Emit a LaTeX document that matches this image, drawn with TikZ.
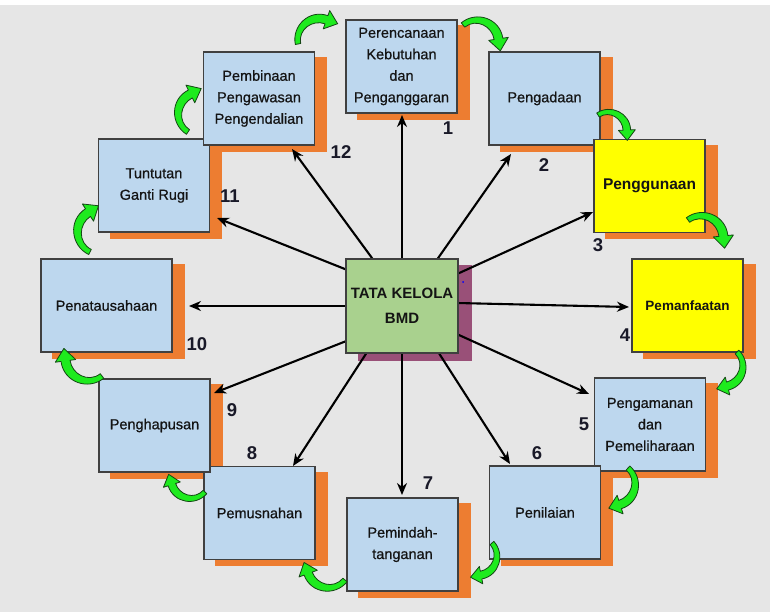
\documentclass[tikz,border=0pt]{standalone}
\usepackage{fontspec}
\setmainfont{Liberation Sans}
\newfontfamily\boxfont[FakeBold=0.7]{Liberation Sans}
\usetikzlibrary{arrows.meta}
\definecolor{bgG}{RGB}{230,230,230}
\definecolor{boxblue}{RGB}{189,215,238}
\definecolor{boxline}{RGB}{64,64,64}
\definecolor{shorange}{RGB}{237,125,49}
\definecolor{shpurple}{RGB}{153,80,120}
\definecolor{cgreen}{RGB}{169,209,142}
\definecolor{yel}{RGB}{255,255,0}
\definecolor{garrfill}{RGB}{30,235,30}
\definecolor{garrline}{RGB}{20,70,20}
\definecolor{numcol}{RGB}{25,25,40}
\pgfdeclarelayer{back}
\pgfdeclarelayer{shad}
\pgfdeclarelayer{conn}
\pgfsetlayers{back,shad,conn,main}
\newcommand\greenarr[3]{%
  \begin{scope}[shift={(#1)}, rotate=#2, scale=#3]
    \begin{scope}[rotate=3.35, shift={(18.79,6.84)}]
      \filldraw[garr] (200:22.5) .. controls (237.6:28.8) and (282.4:30.3) .. (320:24)
        -- (320:29) -- (22.39,-4.43) -- (320:11) -- (320:16)
        .. controls (282.4:20.2) and (237.6:22.1) .. (200:17.5) -- cycle;
    \end{scope}
  \end{scope}}
\begin{document}
\begin{tikzpicture}[x=1pt,y=-1pt,
  box/.style={draw=boxline, line width=1.3pt, fill=boxblue, minimum width=111, minimum height=93,
    inner sep=0pt, align=center, text=black!92, font=\boxfont\fontsize{14.5}{21.5}\selectfont},
  num/.style={font=\bfseries\fontsize{18.5}{20}\selectfont, text=numcol, inner sep=0pt},
  conn/.style={draw=black, line width=2.1pt, -{Stealth[length=12pt,width=10pt]}},
  garr/.style={fill=garrfill, draw=garrline, line width=0.8pt, line join=round},
  sh/.style={fill=shorange}]
\useasboundingbox (0,0) rectangle (776,615);
\begin{pgfonlayer}{back}
  \fill[white] (0,0) rectangle (776,615);
  \fill[bgG] (0,5) rectangle (770,612);
\end{pgfonlayer}

% boxes
\node[box] (B1) at (401.5,66.5) {Perencanaan\\Kebutuhan\\dan\\Penganggaran};
\node[box] (B2) at (544.5,98.5) {Pengadaan};
\node[box, fill=yel, font=\bfseries\fontsize{15.5}{20}\selectfont] (B3) at (649.5,186) {Penggunaan};
\node[box, fill=yel, font=\bfseries\fontsize{13.5}{18}\selectfont] (B4) at (687.5,305.5) {Pemanfaatan};
\node[box] (B5) at (650,424.5) {Pengamanan\\dan\\Pemeliharaan};
\node[box] (B6) at (545,512.5) {Penilaian};
\node[box] (B7) at (402.5,544.5) {Pemindah-\\tanganan};
\node[box] (B8) at (259.5,513) {Pemusnahan};
\node[box] (B9) at (154.5,425.5) {Penghapusan};
\node[box, minimum width=131] (B10) at (106.5,305.5) {Penatausahaan};
\node[box] (B11) at (154,185.5) {Tuntutan\\Ganti Rugi};
\node[box] (B12) at (259,98.5) {Pembinaan\\Pengawasan\\Pengendalian};
\node[box, fill=cgreen, minimum width=112, minimum height=94,
  font=\bfseries\fontsize{15}{25}\selectfont] (C) at (402,306) {TATA KELOLA\\BMD};
\fill[blue] (463,282) circle[radius=1];

% shadows
\begin{pgfonlayer}{shad}
  \foreach \b in {B1,B2,B3,B4,B5,B6,B7,B8,B9,B10,B11,B12}
    \fill[sh] ([shift={(12,6)}]\b.south west) rectangle ([shift={(12,6)}]\b.north east);
  \fill[shpurple] ([shift={(13,7)}]C.south west) rectangle ([shift={(13,7)}]C.north east);
\end{pgfonlayer}

% numbers
\node[num] (n1) at (448,128) {1};
\node[num] (n2) at (544,165) {2};
\node[num] (n3) at (598,245) {3};
\node[num] (n4) at (625,335) {4};
\node[num] (n5) at (584,424) {5};
\node[num] (n6) at (537,453) {6};
\node[num] (n7) at (428,483) {7};
\node[num] (n8) at (252,453) {8};
\node[num] (n9) at (232,410) {9};
\node[num] (n10) at (197,344) {10};
\node[num] (n11) at (230,196) {11};
\node[num] (n12) at (341,152) {12};

% arrow tips
\coordinate (t1) at (402,115);
\coordinate (t2) at (511,154);
\coordinate (t3) at (593,212);
\coordinate (t4) at (629,307);
\coordinate (t5) at (589,394);
\coordinate (t6) at (510,464);
\coordinate (t7) at (402,495);
\coordinate (t8) at (293,466);
\coordinate (t9) at (214,393);
\coordinate (t10) at (189,306);
\coordinate (t11) at (217,218);
\coordinate (t12) at (292,149);

\begin{pgfonlayer}{conn}
  \draw[conn] (C.north) -- (t1);
  \draw[conn] (C.53) -- (t2);
  \draw[conn] (C.30) -- (t3);
  \draw[conn] (C.3) -- (t4);
  \draw[conn] (C.-27) -- (t5);
  \draw[conn] (C.-52) -- (t6);
  \draw[conn] (C.south) -- (t7);
  \draw[conn] (C.-127) -- (t8);
  \draw[conn] (C.-148.7) -- (t9);
  \draw[conn] (C.west) -- (t10);
  \draw[conn] (C.147.3) -- (t11);
  \draw[conn] (C.122.5) -- (t12);
\end{pgfonlayer}

% green curved arrows (tail point, -angle, scale)
\greenarr{298,44}{27.1}{1.08}
\greenarr{463,25}{-34.7}{1.1}
\greenarr{598,115}{-40.9}{0.94}
\greenarr{688,220}{-37.6}{1.12}
\greenarr{737,352}{-118.9}{1.02}
\greenarr{628,468}{-115.5}{1.08}
\greenarr{492,543}{-122.1}{0.98}
\greenarr{345,580}{-203.2}{1.08}
\greenarr{205,492}{-205.9}{0.98}
\greenarr{102,376}{-215.9}{1.14}
\greenarr{90,252}{79.6}{1.14}
\greenarr{188,132}{73.1}{1.1}
\end{tikzpicture}
\end{document}
